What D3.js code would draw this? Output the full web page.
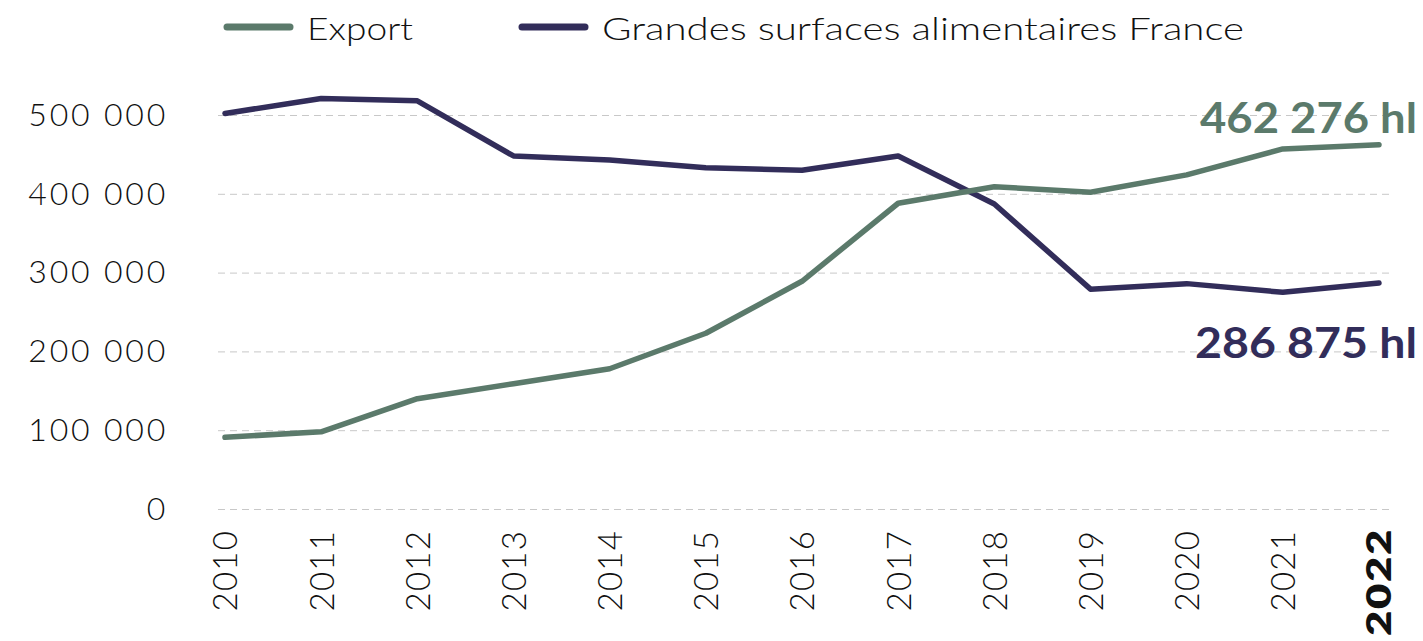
<!DOCTYPE html>
<html>
<head>
<meta charset="utf-8">
<script src="https://cdn.jsdelivr.net/npm/d3@7"></script>
<style>
  body { margin: 0; background: #fff; }
  svg { display: block; font-family: Lato, "Noto Sans", sans-serif; }
</style>
</head>
<body>
<div id="chart"></div>
<script>
// Data
var years = [2010, 2011, 2012, 2013, 2014, 2015, 2016, 2017, 2018, 2019, 2020, 2021, 2022];
var exportValues = [91000, 98000, 140000, 159000, 178000, 223000, 289000, 388000, 409000, 402000, 424000, 457000, 462276];
var gsaValues = [502000, 521000, 518000, 448000, 443000, 433000, 430000, 448000, 387000, 279000, 286000, 275000, 286875];
var yTicks = [0, 100000, 200000, 300000, 400000, 500000];
var seriesNames = ["Export", "Grandes surfaces alimentaires France"];
var endLabels = ["462 276 hl", "286 875 hl"];

var green = "#5b7a6b";
var navy = "#322d5a";

var svgWidth = 1423;
var svgHeight = 641;

var svg = d3.select("#chart")
    .append("svg")
    .attr("width", svgWidth)
    .attr("height", svgHeight);

// Scales
var x = d3.scalePoint()
    .domain(years)
    .range([225, 1379]);

var y = d3.scaleLinear()
    .domain([0, 500000])
    .range([509, 115]);

var fmt = function (d) { return d3.format(",")(d).replace(/,/g, " "); };

// Y axis + dashed grid
var gridLeft = 218, gridRight = 1392;
var axisY = svg.append("g")
    .attr("transform", `translate(${gridLeft}, 0)`)
    .call(d3.axisLeft(y).tickValues(yTicks).tickSize(-(gridRight - gridLeft)).tickPadding(50).tickFormat(fmt));
axisY.select(".domain").remove();
axisY.selectAll(".tick line")
    .attr("stroke", "#c8c8c8")
    .attr("stroke-width", 1)
    .attr("stroke-dasharray", "7,5");
axisY.selectAll(".tick text")
    .attr("fill", "#111")
    .attr("font-size", 32)
    .attr("font-weight", 300)
    .attr("letter-spacing", 2.8)
    .attr("font-family", "Lato, sans-serif");

// X axis
var axisX = svg.append("g")
    .attr("transform", `translate(0, ${y(0)})`)
    .call(d3.axisBottom(x).tickSize(0));
axisX.select(".domain").remove();
axisX.selectAll(".tick text")
    .attr("transform", "rotate(-90)")
    .attr("text-anchor", "end")
    .attr("x", -21)
    .attr("y", 0)
    .attr("dy", "0.36em")
    .attr("fill", "#111")
    .attr("font-size", 33)
    .attr("letter-spacing", 1.2)
    .attr("font-family", "Lato, sans-serif")
    .attr("font-weight", d => d === 2022 ? 800 : 300);

// last year is bold and wider
axisX.selectAll(".tick text")
    .filter(d => d === 2022)
    .attr("x", -19)
    .attr("textLength", 108)
    .attr("lengthAdjust", "spacingAndGlyphs");

// Lines
var line = d3.line()
    .x((d, i) => x(years[i]))
    .y(d => y(d));

svg.append("path")
    .datum(gsaValues)
    .attr("fill", "none")
    .attr("stroke", navy)
    .attr("stroke-width", 5.5)
    .attr("stroke-linejoin", "round")
    .attr("stroke-linecap", "round")
    .attr("d", line);

svg.append("path")
    .datum(exportValues)
    .attr("fill", "none")
    .attr("stroke", green)
    .attr("stroke-width", 5.5)
    .attr("stroke-linejoin", "round")
    .attr("stroke-linecap", "round")
    .attr("d", line);

// Legend
var legend = [
    { name: seriesNames[0], color: green, x: 227, len: 106 },
    { name: seriesNames[1], color: navy, x: 522, len: 642 }
];
var lg = svg.append("g").selectAll("g")
    .data(legend)
    .enter()
    .append("g")
    .attr("transform", d => `translate(${d.x}, 27)`);
lg.append("line")
    .attr("x1", 0).attr("x2", 63)
    .attr("stroke", d => d.color)
    .attr("stroke-width", 7)
    .attr("stroke-linecap", "round");
lg.append("text")
    .attr("x", 80)
    .attr("y", 13)
    .attr("font-size", 31)
    .attr("font-weight", 300)
    .attr("fill", "#111")
    .attr("textLength", d => d.len)
    .attr("lengthAdjust", "spacingAndGlyphs")
    .text(d => d.name);

// End labels
svg.append("text")
    .attr("x", 1200)
    .attr("y", 133)
    .attr("font-size", 42)
    .attr("font-weight", 700)
    .attr("fill", green)
    .attr("textLength", 217)
    .attr("lengthAdjust", "spacingAndGlyphs")
    .text(endLabels[0]);

svg.append("text")
    .attr("x", 1195)
    .attr("y", 358)
    .attr("font-size", 42)
    .attr("font-weight", 700)
    .attr("fill", navy)
    .attr("textLength", 222)
    .attr("lengthAdjust", "spacingAndGlyphs")
    .text(endLabels[1]);
</script>
</body>
</html>
